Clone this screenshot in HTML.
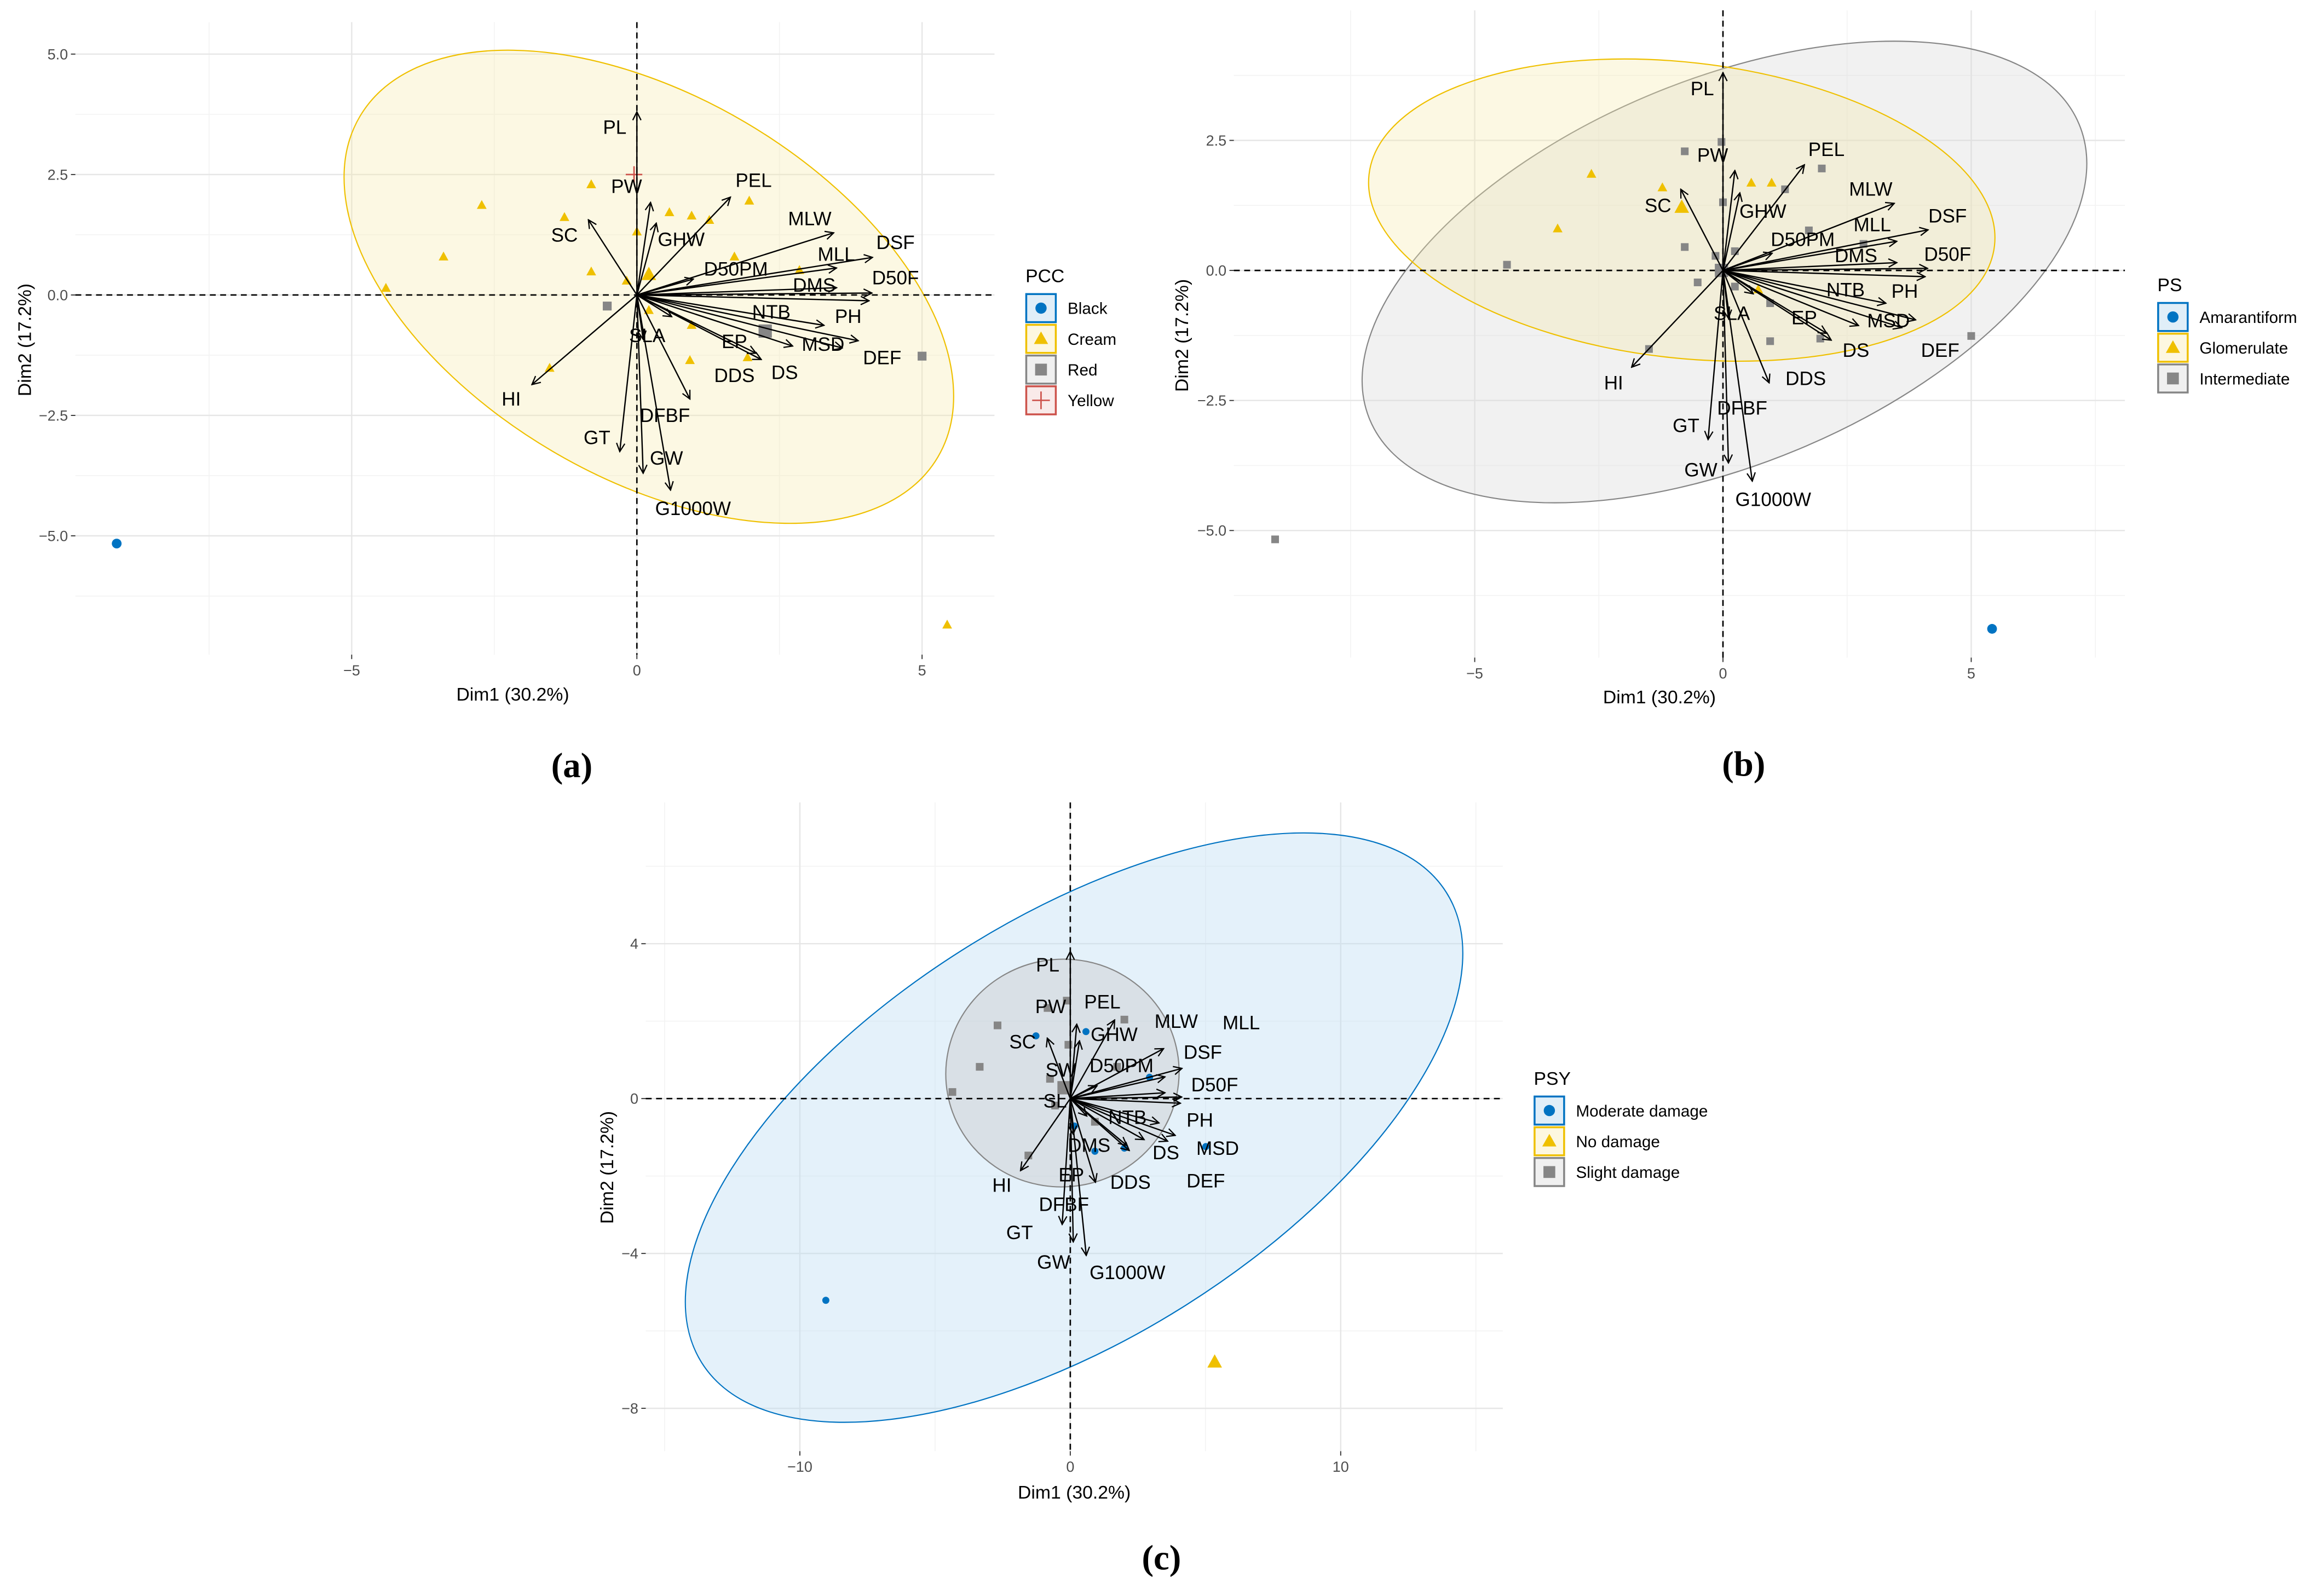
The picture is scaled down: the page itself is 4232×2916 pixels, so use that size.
<!DOCTYPE html>
<html><head><meta charset="utf-8">
<style>
html,body{margin:0;padding:0;background:#fff;}
svg{display:block;}
text{font-family:"Liberation Sans",Arial,sans-serif;}
</style></head>
<body>
<svg id="fig" xmlns="http://www.w3.org/2000/svg" width="4232" height="2916" viewBox="0 0 1568 1080" preserveAspectRatio="none">
<defs>
<marker id="ah" viewBox="0 0 10 10" refX="9" refY="5" markerWidth="7" markerHeight="7" orient="auto" markerUnits="userSpaceOnUse">
<path d="M1,1 L9,5 L1,9" fill="none" stroke="#000" stroke-width="1.2"/>
</marker>
</defs>
</svg>
<script>
// ===== shared variable loadings (Dim1, Dim2) =====
const varNames = ["PL","PW","GHW","PEL","SC","MLW","MLL","DSF","D50PM","D50F","DMS","PH","NTB","MSD","DEF","DS","EP","DDS","SW","SLA","HI","GT","GW","G1000W","DFBF"];
const varX = [0,0.24,0.34,1.64,-0.85,3.45,3.50,4.13,0.99,4.12,3.5,4.07,3.28,3.88,3.6,2.73,2.18,2.09,0.61,0.11,-1.84,-0.30,0.11,0.59,0.93];
const varY = [3.8,1.92,1.49,2.03,1.56,1.29,0.56,0.78,0.33,0.04,0.15,-0.12,-0.63,-0.95,-1.1,-1.06,-1.34,-1.21,-0.45,-0.92,-1.86,-3.25,-3.70,-4.05,-2.16];

// ===== panel a: PCC groups =====
const aCreamX = [-0.80,-2.72,-1.27,-3.39,-4.40,-0.80,0.57,0.96,1.27,1.97,1.71,0,-0.18,0.21,0.96,0.93,-1.53,1.94,2.85,5.44];
const aCreamY = [2.29,1.86,1.61,0.79,0.14,0.48,1.71,1.64,1.55,1.95,0.79,1.31,0.29,-0.32,-0.63,-1.36,-1.52,-1.30,0.51,-6.85];
const aRedX = [-0.52,5.0];
const aRedY = [-0.23,-1.27];
const aYellowX = [-0.05];
const aYellowY = [2.50];
const aBlackX = [-9.12];
const aBlackY = [-5.16];
const aMeans = [[0.21,0.42,"cream"],[2.25,-0.75,"red"]];

// ===== panel b: PS groups =====
const bInterX = [-0.03,-0.77,1.99,1.25,0,1.73,-0.77,-0.15,0.24,2.83,-4.35,-0.51,0.24,0.95,0.95,1.96,-1.49,5.0,-9.02];
const bInterY = [2.47,2.29,1.96,1.56,1.31,0.77,0.45,0.28,0.37,0.51,0.11,-0.23,-0.31,-0.63,-1.36,-1.31,-1.51,-1.26,-5.17];
const bGlomX = [-2.65,-3.33,-1.22,0.57,0.98,0.71];
const bGlomY = [1.85,0.80,1.59,1.68,1.68,-0.37];
const bAmarX = [5.42];
const bAmarY = [-6.89];
const bMeans = [[-0.03,0,"gray"],[-0.83,1.21,"cream"]];

// ===== panel c: PSY groups =====
const cSlightX = [-0.13,-0.84,-2.69,2.0,-3.35,-0.07,-0.75,-0.29,-4.36,-0.56,0.91,-1.55,1.73];
const cSlightY = [2.53,2.34,1.89,2.04,0.82,1.39,0.51,0.32,0.17,-0.18,-0.60,-1.47,0.82];
const cModX = [0.58,-1.27,2.93,0.15,0.91,2.0,5.01,-9.04];
const cModY = [1.73,1.62,0.55,-0.71,-1.36,-1.28,-1.24,-5.21];
const cNoX = [5.34];
const cNoY = [-6.81];
const cMeans = [[-0.23,0.28,"gray"]];

// ticks
const aXTicks=[-5,0,5], aXMinor=[-7.5,-2.5,2.5], aYTicks=[5,2.5,0,-2.5,-5], aYMinor=[3.75,1.25,-1.25,-3.75,-6.25];
const aXLab=["-5","0","5"], aYLab=["5.0","2.5","0.0","-2.5","-5.0"];
const bXTicks=[-5,0,5], bXMinor=[-7.5,-2.5,2.5,7.5], bYTicks=[2.5,0,-2.5,-5], bYMinor=[3.75,1.25,-1.25,-3.75,-6.25];
const bXLab=["-5","0","5"], bYLab=["2.5","0.0","-2.5","-5.0"];
const cXTicks=[-10,0,10], cXMinor=[-15,-5,5,15], cYTicks=[4,0,-4,-8], cYMinor=[6,2,-2,-6];
const cXLab=["-10","0","10"], cYLab=["4","0","-4","-8"];

const COL={blue:"#0073C2",cream:"#EFC000",gray:"#868686",red:"#CD534C"};
const NS="http://www.w3.org/2000/svg";
const svg=document.getElementById("fig");
function mk(tag,attrs,parent){const e=document.createElementNS(NS,tag);for(const k in attrs)e.setAttribute(k,attrs[k]);(parent||svg).appendChild(e);return e;}

function panel(cfg){
  const g=mk("g",{});
  
  
  const sx=v=>cfg.x0px+v*cfg.kx, sy=v=>cfg.y0px-v*cfg.ky;
  const R=cfg.rect;
  cfg.xMinor.forEach(v=>{const l=mk("line",{x1:sx(v),x2:sx(v),y1:R[1],y2:R[3],stroke:"#F3F3F3","stroke-width":0.6},g);});
  cfg.yMinor.forEach(v=>{const l=mk("line",{x1:R[0],x2:R[2],y1:sy(v),y2:sy(v),stroke:"#F3F3F3","stroke-width":0.6},g);});
  cfg.xTicks.forEach(v=>{const l=mk("line",{x1:sx(v),x2:sx(v),y1:R[1],y2:R[3],stroke:"#E6E6E6","stroke-width":0.9},g);});
  cfg.yTicks.forEach(v=>{const l=mk("line",{x1:R[0],x2:R[2],y1:sy(v),y2:sy(v),stroke:"#E6E6E6","stroke-width":0.9},g);});
  cfg.xTicks.forEach((v,i)=>{const t=mk("text",{x:sx(v),y:R[3]+14,"text-anchor":"middle","font-size":10,fill:"#4D4D4D"},g);t.textContent=cfg.xLab[i].replace("-","\u2212");
    const tk=mk("line",{x1:sx(v),x2:sx(v),y1:R[3],y2:R[3]+3,stroke:"#333","stroke-width":0.7},g);});
  cfg.yTicks.forEach((v,i)=>{const t=mk("text",{x:R[0]-5,y:sy(v)+3.5,"text-anchor":"end","font-size":10,fill:"#4D4D4D"},g);t.textContent=cfg.yLab[i].replace("-","\u2212");
    const tk=mk("line",{x1:R[0]-3,x2:R[0],y1:sy(v),y2:sy(v),stroke:"#333","stroke-width":0.7},g);});
  cfg.ellipses.forEach(e=>{const cx=sx(e.cx),cy=sy(e.cy);const el=mk("ellipse",{cx:cx,cy:cy,rx:e.rx,ry:e.ry,transform:`rotate(${e.rot} ${cx} ${cy})`,fill:e.fill,"fill-opacity":e.op,stroke:e.stroke,"stroke-width":0.8},g);});
  const h=mk("line",{x1:R[0],x2:R[2],y1:sy(0),y2:sy(0),stroke:"#000","stroke-width":1,"stroke-dasharray":"4,3"},g);
  const vl=mk("line",{x1:sx(0),x2:sx(0),y1:R[1],y2:R[3],stroke:"#000","stroke-width":1,"stroke-dasharray":"4,3"},g);
  function pts(xs,ys,shape,col,size,name){
    xs.forEach((x,i)=>{const px=sx(x),py=sy(ys[i]);let e;
      if(shape==="circle")e=mk("circle",{cx:px,cy:py,r:size,fill:col},g);
      else if(shape==="tri")e=mk("polygon",{points:`${px},${py-size*1.2} ${px-size*1.1},${py+size*0.8} ${px+size*1.1},${py+size*0.8}`,fill:col},g);
      else if(shape==="sq")e=mk("rect",{x:px-size,y:py-size,width:2*size,height:2*size,fill:col},g);
      else {e=mk("path",{d:`M${px-size*1.4},${py}H${px+size*1.4}M${px},${py-size*1.4}V${py+size*1.4}`,stroke:col,"stroke-width":1,fill:"none"},g);}
      });
  }
  cfg.points.forEach(p=>pts(p[0],p[1],p[2],p[3],p[4],p[5]));
  cfg.means.forEach(m=>{const shp=m[2]==="cream"?"tri":(m[2]==="gray"||m[2]==="red")?"sq":"circle";pts([m[0]],[m[1]],shp,m[2]==="red"?COL.gray:COL[m[2]],4.5,"group-mean-point");});
  varNames.forEach((n,i)=>{const a=mk("line",{x1:sx(0),y1:sy(0),x2:sx(varX[i]*cfg.as),y2:sy(varY[i]*cfg.as),stroke:"#000","stroke-width":0.9,"marker-end":"url(#ah)"},g);});
  cfg.labels.forEach(l=>{const t=mk("text",{x:l[1],y:l[2]+4.5,"text-anchor":"middle","font-size":13,fill:"#000"},g);t.textContent=l[0];});
  const xt=mk("text",{x:cfg.xTitle[0],y:cfg.xTitle[1],"text-anchor":"middle","font-size":12.5,fill:"#000"},g);xt.textContent="Dim1 (30.2%)";
  const yt=mk("text",{x:0,y:0,"text-anchor":"middle","font-size":12.5,fill:"#000",transform:`translate(${cfg.yTitle[0]},${cfg.yTitle[1]}) rotate(-90)`},g);yt.textContent="Dim2 (17.2%)";
  const L=cfg.legend;
  const lt=mk("text",{x:L.x,y:L.y,"font-size":12.5,fill:"#000"},g);lt.textContent=L.title;
  L.items.forEach((it,i)=>{const y=L.y+8+i*20.8;const kx=L.x+0.5;
    const b=mk("rect",{x:kx,y:y,width:20,height:19,fill:it.col,"fill-opacity":0.12,stroke:it.col,"stroke-width":1.3},g);
    const cx=kx+10,cy=y+9.5;let s;
    if(it.shape==="circle")s=mk("circle",{cx:cx,cy:cy,r:3.8,fill:it.col},g);
    else if(it.shape==="tri")s=mk("polygon",{points:`${cx},${cy-5} ${cx-4.8},${cy+3.5} ${cx+4.8},${cy+3.5}`,fill:it.col},g);
    else if(it.shape==="sq")s=mk("rect",{x:cx-4,y:cy-4,width:8,height:8,fill:it.col},g);
    else s=mk("path",{d:`M${cx-6},${cy}H${cx+6}M${cx},${cy-6}V${cy+6}`,stroke:it.col,"stroke-width":1,fill:"none"},g);
    
    const t=mk("text",{x:kx+28,y:cy+4,"font-size":11,fill:"#000"},g);t.textContent=it.label;});
  const cap=mk("text",{x:cfg.cap[0],y:cfg.cap[1],"text-anchor":"middle",style:"font-family:'Liberation Serif',serif;font-size:24px;font-weight:bold;",fill:"#000"},g);cap.textContent=cfg.capText;
}

panel({name:"panel-a-pcc",x0px:431,y0px:199.6,kx:38.6,ky:32.6,as:1,rect:[51,15,673,443],
  xTicks:aXTicks,xMinor:aXMinor,yTicks:aYTicks,yMinor:aYMinor,xLab:aXLab,yLab:aYLab,
  ellipses:[{name:"ellipse-cream",cx:0.21,cy:0.17,rx:227,ry:129,rot:30.5,fill:"#F7E9A8",op:0.32,stroke:"#EFC000"}],
  points:[[aCreamX,aCreamY,"tri",COL.cream,3,"cream-point"],[aRedX,aRedY,"sq",COL.gray,3,"red-point"],[aYellowX,aYellowY,"cross",COL.red,4,"yellow-point"],[aBlackX,aBlackY,"circle",COL.blue,3.3,"black-point"]],
  means:aMeans,
  labels:[["PL",416,86],["PW",424,126],["PEL",510,122],["SC",382,159],["GHW",461,162],["MLW",548,148],["DSF",606,164],["MLL",566,172],["D50PM",498,182],["DMS",551,193],["D50F",606,188],["NTB",522,211],["PH",574,214],["SLA",438,227],["EP",497,231],["MSD",557,233],["DEF",597,242],["DDS",497,254],["DS",531,252],["HI",346,270],["DFBF",450,281],["GT",404,296],["GW",451,310],["G1000W",469,344]],
  xTitle:[347,474],yTitle:[21,230],
  legend:{x:694,y:191,title:"PCC",items:[{label:"Black",col:COL.blue,shape:"circle"},{label:"Cream",col:COL.cream,shape:"tri"},{label:"Red",col:COL.gray,shape:"sq"},{label:"Yellow",col:COL.red,shape:"cross"}]},
  cap:[387,526],capText:"(a)"});

panel({name:"panel-b-ps",x0px:1166,y0px:183,kx:33.6,ky:35.2,as:1,rect:[835,7,1438,445],
  xTicks:bXTicks,xMinor:bXMinor,yTicks:bYTicks,yMinor:bYMinor,xLab:bXLab,yLab:bYLab,
  ellipses:[{name:"ellipse-intermediate",cx:0.03,cy:-0.03,rx:260,ry:130,rot:-22.6,fill:"#DADADA",op:0.38,stroke:"#868686"},
            {name:"ellipse-glomerulate",cx:-0.83,cy:1.16,rx:213,ry:100,rot:6.5,fill:"#F7E9A8",op:0.32,stroke:"#EFC000"}],
  points:[[bInterX,bInterY,"sq",COL.gray,2.6,"intermediate-point"],[bGlomX,bGlomY,"tri",COL.cream,3,"glomerulate-point"],[bAmarX,bAmarY,"circle",COL.blue,3.3,"amarantiform-point"]],
  means:bMeans,
  labels:[["PL",1152,60],["PW",1159,105],["PEL",1236,101],["SC",1122,139],["GHW",1193,143],["MLW",1266,128],["DSF",1318,146],["MLL",1267,152],["D50PM",1220,162],["DMS",1256,173],["D50F",1318,172],["NTB",1249,196],["PH",1289,197],["SLA",1172,212],["EP",1221,215],["MSD",1278,217],["DEF",1313,237],["DS",1256,237],["DDS",1222,256],["HI",1092,259],["DFBF",1179,276],["GT",1141,288],["GW",1151,318],["G1000W",1200,338]],
  xTitle:[1123,476],yTitle:[804,227],
  legend:{x:1460,y:197,title:"PS",items:[{label:"Amarantiform",col:COL.blue,shape:"circle"},{label:"Glomerulate",col:COL.cream,shape:"tri"},{label:"Intermediate",col:COL.gray,shape:"sq"}]},
  cap:[1180,525],capText:"(b)"});

panel({name:"panel-c-psy",x0px:724.3,y0px:743.4,kx:18.3,ky:26.2,as:1,rect:[437,543,1017,982],
  xTicks:cXTicks,xMinor:cXMinor,yTicks:cYTicks,yMinor:cYMinor,xLab:cXLab,yLab:cYLab,
  ellipses:[{name:"ellipse-moderate-damage",cx:0.14,cy:-0.75,rx:298,ry:142,rot:-32.3,fill:"#BFDDF2",op:0.42,stroke:"#0073C2"},
            {name:"ellipse-slight-damage",cx:-0.29,cy:0.66,rx:79,ry:77,rot:-10,fill:"#C8C8C8",op:0.4,stroke:"#868686"}],
  points:[[cSlightX,cSlightY,"sq",COL.gray,2.6,"slight-damage-point"],[cModX,cModY,"circle",COL.blue,2.4,"moderate-damage-point"],[cNoX,cNoY,"tri",COL.cream,4.5,"no-damage-point"]],
  means:cMeans,
  labels:[["PL",709,653],["PW",711,681],["PEL",746,678],["MLW",796,691],["MLL",840,692],["SC",692,705],["GHW",754,700],["DSF",814,712],["SW",718,724],["D50PM",759,721],["D50F",822,734],["SL",714,745],["NTB",763,756],["PH",812,758],["DMS",737,775],["MSD",824,777],["DS",789,780],["EP",725,795],["DDS",765,800],["DEF",816,799],["HI",678,802],["DFBF",720,815],["GT",690,834],["GW",713,854],["G1000W",763,861]],
  xTitle:[727,1014],yTitle:[415,790],
  legend:{x:1038,y:734,title:"PSY",items:[{label:"Moderate damage",col:COL.blue,shape:"circle"},{label:"No damage",col:COL.cream,shape:"tri"},{label:"Slight damage",col:COL.gray,shape:"sq"}]},
  cap:[786,1062],capText:"(c)"});
</script>
</body></html>
